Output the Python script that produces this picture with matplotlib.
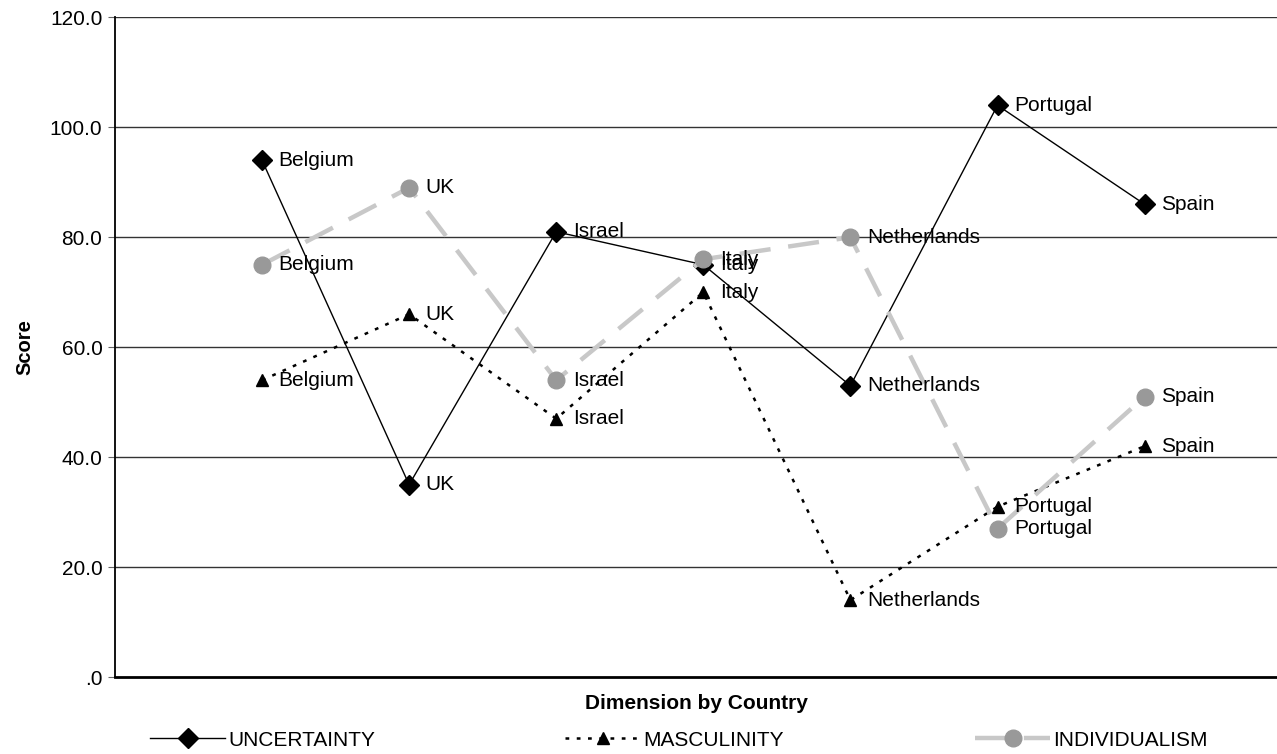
import numpy as np
import matplotlib.pyplot as plt
from matplotlib.ticker import FuncFormatter

plt.rcParams['font.family'] = ['Liberation Sans', 'DejaVu Sans']

countries = ["Belgium", "UK", "Israel", "Italy", "Netherlands", "Portugal", "Spain"]
uncertainty = [94, 35, 81, 75, 53, 104, 86]
masculinity = [54, 66, 47, 70, 14, 31, 42]
individualism = [75, 89, 54, 76, 80, 27, 51]

x = np.arange(1, len(countries) + 1)

fig = plt.figure(figsize=(12.77, 7.54), dpi=100)
ax = fig.add_axes([0.09, 0.102, 0.91, 0.875])

# horizontal grid at every 20
for yv in range(20, 121, 20):
    ax.axhline(yv, color='#333333', lw=1.0, zorder=1)

l_unc, = ax.plot(x, uncertainty, color='black', lw=1.0, marker='D', markersize=10,
                 markerfacecolor='black', markeredgecolor='black', zorder=3,
                 label='UNCERTAINTY')
l_mas, = ax.plot(x, masculinity, color='black', lw=1.8, linestyle=(0, (1.5, 3)),
                 marker='^', markersize=9, markerfacecolor='black',
                 markeredgecolor='black', zorder=3, label='MASCULINITY')
l_ind, = ax.plot(x, individualism, color='#c8c8c8', lw=3.2, linestyle=(0, (7, 4)),
                 marker='o', markersize=12, markerfacecolor='#999999',
                 markeredgecolor='#999999', zorder=4, label='INDIVIDUALISM')

# country names next to each point
for series in (uncertainty, masculinity, individualism):
    for xi, yi, name in zip(x, series, countries):
        ax.annotate(name, (xi, yi), xytext=(12, 0), textcoords='offset points',
                    va='center', ha='left', fontsize=15, zorder=5)

ax.set_xlim(0, 7.9)
ax.set_ylim(0, 120)
ax.set_yticks(range(0, 121, 20))
ax.yaxis.set_major_formatter(FuncFormatter(
    lambda v, p: '.0' if v == 0 else f'{v:.1f}'))
ax.set_xticks([])
ax.tick_params(axis='y', labelsize=15, length=5, color='#666666', pad=4)

for side in ('top', 'right'):
    ax.spines[side].set_visible(False)
ax.spines['left'].set_linewidth(1.3)
ax.spines['bottom'].set_linewidth(2.0)

ax.set_ylabel('Score', fontsize=14.5, fontweight='bold', labelpad=11)
ax.set_xlabel('Dimension by Country', fontsize=15, fontweight='bold', labelpad=12)

# one legend per series so each sits where it belongs along the bottom
for handle, x0 in ((l_unc, 150), (l_mas, 565), (l_ind, 975)):
    fig.legend(handles=[handle], loc='center left',
               bbox_to_anchor=(x0 / 1277, 1 - 740 / 754), frameon=False,
               fontsize=15, handlelength=3.6, handletextpad=0.15,
               borderpad=0, borderaxespad=0)

fig.savefig('out.png', dpi=100)
